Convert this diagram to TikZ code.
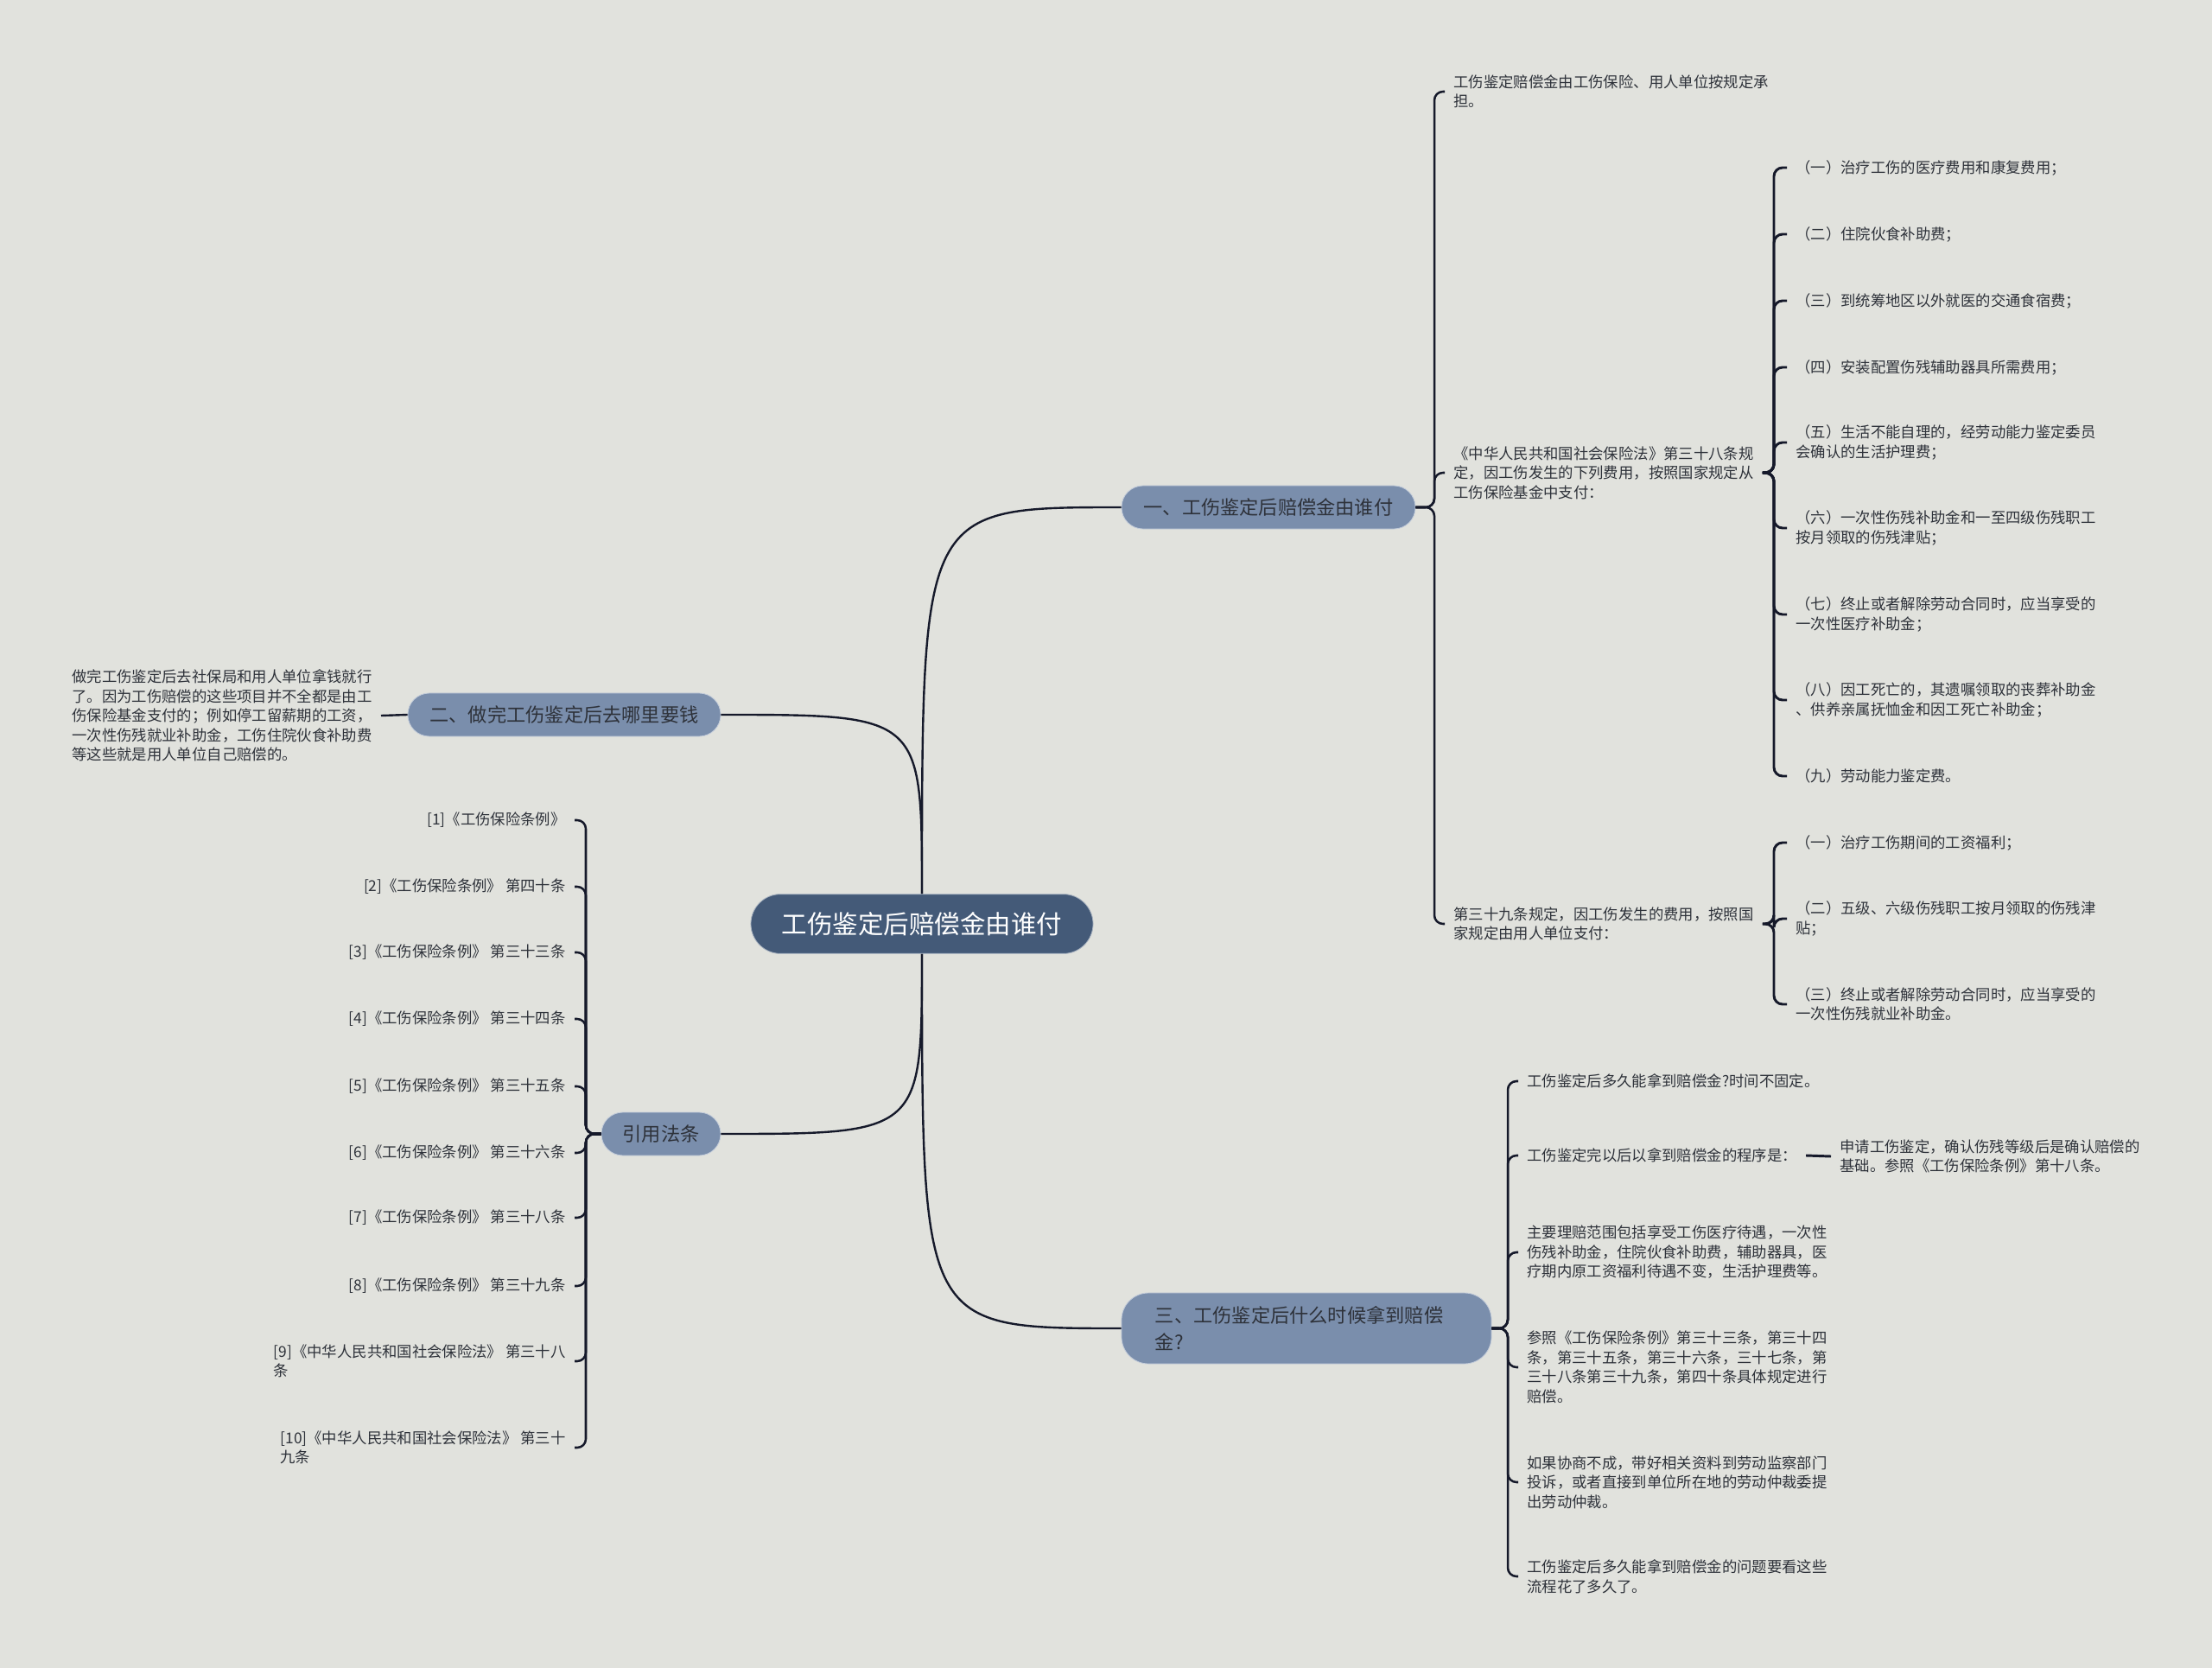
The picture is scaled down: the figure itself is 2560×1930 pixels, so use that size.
\documentclass[tikz,border=0pt]{standalone}
\usepackage{fontspec}
\setmainfont{Noto Sans CJK SC}
\usepackage{tikz}
\usetikzlibrary{positioning,calc}
\definecolor{mmBg}{HTML}{E1E2DD}
\definecolor{mmRoot}{HTML}{445A78}
\definecolor{mmMain}{HTML}{7A8EAC}
\definecolor{mmInk}{HTML}{2E323A}
\definecolor{mmLine}{HTML}{15192A}
\tikzset{
  % Central topic (dark pill)
  rootbox/.style={rectangle,rounded corners=0.86cm,
    minimum width=9.9cm,minimum height=1.72cm,
    fill=mmRoot,draw=white!55!mmRoot,line width=0.6pt,
    font=\fontsize{21}{26}\selectfont,text=white},
  % Main topic (light pill)
  mainbox/.style={rectangle,rounded corners=0.62cm,
    minimum height=1.25cm,
    fill=mmMain,draw=white!55!mmMain,line width=0.6pt,
    font=\fontsize{15.8}{22}\selectfont,text=mmInk},
  % Leaf text
  leaf/.style={align=left,inner xsep=0.25cm,inner ysep=2pt,
    font=\fontsize{12.35}{16}\selectfont,text=mmInk},
  % Connectors
  link/.style={line width=1.7pt,draw=mmLine},
  brk/.style={line width=1.8pt,draw=mmLine,rounded corners=0.25cm},
}

\begin{document}
\begin{tikzpicture}[x=0.025cm,y=-0.025cm]
  \fill[mmBg] (0,0) rectangle (2560,1930);
  \useasboundingbox (0,0) rectangle (2560,1930);

  %% --- TOPICS ---
  \node[rootbox] (root) at (1067,1069) {工伤鉴定后赔偿金由谁付};
  \node[mainbox,minimum width=8.5cm] (who) at (1468,587) {一、工伤鉴定后赔偿金由谁付};
  \node[mainbox,minimum width=9.05cm] (where) at (653,827) {二、做完工伤鉴定后去哪里要钱};
  \node[mainbox,minimum width=3.45cm] (law) at (765,1312) {引用法条};
  \node[mainbox,text width=8.75cm,align=left,inner xsep=0.975cm,
    minimum height=2.05cm,rounded corners=0.78cm] (when) at (1512,1537)
    {三、工伤鉴定后什么时候拿到赔偿\\金?};

  \draw[link] (root.north) .. controls (root.north |- who.west) .. (who.west);
  \draw[link] (root.north) .. controls (root.north |- where.east) .. (where.east);
  \draw[link] (root.south) .. controls (root.south |- law.east) .. (law.east);
  \draw[link] (root.south) .. controls (root.south |- when.west) .. (when.west);

  %% --- WHO PAYS ---
  \coordinate (whoT) at (1660,587);
  \node[leaf,anchor=west] (pay) at (1672,106)
    {工伤鉴定赔偿金由工伤保险、用人单位按规定承\\担。};
  \node[leaf,anchor=west] (fund) at (1672,547)
    {《中华人民共和国社会保险法》第三十八条规\\定，因工伤发生的下列费用，按照国家规定从\\工伤保险基金中支付：};
  \node[leaf,anchor=west] (unit) at (1672,1069)
    {第三十九条规定，因工伤发生的费用，按照国\\家规定由用人单位支付：};

  \draw[brk] (who.east) -- (whoT) |- (pay.west);
  \draw[brk] (who.east) -- (whoT) |- (fund.west);
  \draw[brk] (who.east) -- (whoT) |- (unit.west);

  % paid from the fund
  \coordinate (fundT) at (2053,547);
  \node[leaf,anchor=west] (f1) at (2068,194) {（一）治疗工伤的医疗费用和康复费用；};
  \node[leaf,anchor=west] (f2) at (2068,271) {（二）住院伙食补助费；};
  \node[leaf,anchor=west] (f3) at (2068,348) {（三）到统筹地区以外就医的交通食宿费；};
  \node[leaf,anchor=west] (f4) at (2068,425) {（四）安装配置伤残辅助器具所需费用；};
  \node[leaf,anchor=west] (f5) at (2068,512)
    {（五）生活不能自理的，经劳动能力鉴定委员\\会确认的生活护理费；};
  \node[leaf,anchor=west] (f6) at (2068,611)
    {（六）一次性伤残补助金和一至四级伤残职工\\按月领取的伤残津贴；};
  \node[leaf,anchor=west] (f7) at (2068,711)
    {（七）终止或者解除劳动合同时，应当享受的\\一次性医疗补助金；};
  \node[leaf,anchor=west] (f8) at (2068,810)
    {（八）因工死亡的，其遗嘱领取的丧葬补助金\\、供养亲属抚恤金和因工死亡补助金；};
  \node[leaf,anchor=west] (f9) at (2068,898) {（九）劳动能力鉴定费。};

  \draw[brk,line width=2.1pt] (fund.east) -- (fundT) |- (f1.west);
  \draw[brk,line width=2.1pt] (fund.east) -- (fundT) |- (f2.west);
  \draw[brk,line width=2.1pt] (fund.east) -- (fundT) |- (f3.west);
  \draw[brk,line width=2.1pt] (fund.east) -- (fundT) |- (f4.west);
  \draw[brk,line width=2.1pt] (fund.east) -- (fundT) |- (f5.west);
  \draw[brk,line width=2.1pt] (fund.east) -- (fundT) |- (f6.west);
  \draw[brk,line width=2.1pt] (fund.east) -- (fundT) |- (f7.west);
  \draw[brk,line width=2.1pt] (fund.east) -- (fundT) |- (f8.west);
  \draw[brk,line width=2.1pt] (fund.east) -- (fundT) |- (f9.west);

  % paid by the employer
  \coordinate (unitT) at (2053,1069);
  \node[leaf,anchor=west] (u1) at (2068,975) {（一）治疗工伤期间的工资福利；};
  \node[leaf,anchor=west] (u2) at (2068,1063)
    {（二）五级、六级伤残职工按月领取的伤残津\\贴；};
  \node[leaf,anchor=west] (u3) at (2068,1162)
    {（三）终止或者解除劳动合同时，应当享受的\\一次性伤残就业补助金。};

  \draw[brk,line width=2.1pt] (unit.east) -- (unitT) |- (u1.west);
  \draw[brk,line width=2.1pt] (unit.east) -- (unitT) |- (u2.west);
  \draw[brk,line width=2.1pt] (unit.east) -- (unitT) |- (u3.west);

  %% --- WHERE TO GET IT ---
  \node[leaf,anchor=east] (office) at (441,828)
    {做完工伤鉴定后去社保局和用人单位拿钱就行\\了。因为工伤赔偿的这些项目并不全都是由工\\伤保险基金支付的；例如停工留薪期的工资，\\一次性伤残就业补助金，工伤住院伙食补助费\\等这些就是用人单位自己赔偿的。};
  \draw[link] (where.west) -- (office.east);

  %% --- WHEN ---
  \coordinate (whenT) at (1745,1537);
  \node[leaf,anchor=west] (q1) at (1757,1251) {工伤鉴定后多久能拿到赔偿金?时间不固定。};
  \node[leaf,anchor=west] (q2) at (1757,1337) {工伤鉴定完以后以拿到赔偿金的程序是：};
  \node[leaf,anchor=west] (q3) at (1757,1449)
    {主要理赔范围包括享受工伤医疗待遇，一次性\\伤残补助金，住院伙食补助费，辅助器具，医\\疗期内原工资福利待遇不变，生活护理费等。};
  \node[leaf,anchor=west] (q4) at (1757,1582)
    {参照《工伤保险条例》第三十三条，第三十四\\条，第三十五条，第三十六条，三十七条，第\\三十八条第三十九条，第四十条具体规定进行\\赔偿。};
  \node[leaf,anchor=west] (q5) at (1757,1715)
    {如果协商不成，带好相关资料到劳动监察部门\\投诉，或者直接到单位所在地的劳动仲裁委提\\出劳动仲裁。};
  \node[leaf,anchor=west] (q6) at (1757,1824)
    {工伤鉴定后多久能拿到赔偿金的问题要看这些\\流程花了多久了。};
  \node[leaf,anchor=west] (step) at (2119,1338)
    {申请工伤鉴定，确认伤残等级后是确认赔偿的\\基础。参照《工伤保险条例》第十八条。};

  \draw[brk] (when.east) -- (whenT) |- (q1.west);
  \draw[brk] (when.east) -- (whenT) |- (q2.west);
  \draw[brk] (when.east) -- (whenT) |- (q3.west);
  \draw[brk] (when.east) -- (whenT) |- (q4.west);
  \draw[brk] (when.east) -- (whenT) |- (q5.west);
  \draw[brk] (when.east) -- (whenT) |- (q6.west);
  \draw[link,line width=2.1pt] (q2.east) -- (step.west);

  %% --- CITED LAWS ---
  \coordinate (lawT) at (678,1312);
  \node[leaf,anchor=east] (r1) at (665,949) {[1]《工伤保险条例》};
  \node[leaf,anchor=east] (r2) at (665,1026) {[2]《工伤保险条例》 第四十条};
  \node[leaf,anchor=east] (r3) at (665,1102) {[3]《工伤保险条例》 第三十三条};
  \node[leaf,anchor=east] (r4) at (665,1179) {[4]《工伤保险条例》 第三十四条};
  \node[leaf,anchor=east] (r5) at (665,1257) {[5]《工伤保险条例》 第三十五条};
  \node[leaf,anchor=east] (r6) at (665,1334) {[6]《工伤保险条例》 第三十六条};
  \node[leaf,anchor=east] (r7) at (665,1409) {[7]《工伤保险条例》 第三十八条};
  \node[leaf,anchor=east] (r8) at (665,1488) {[8]《工伤保险条例》 第三十九条};
  \node[leaf,anchor=east] (r9) at (665,1575)
    {[9]《中华人民共和国社会保险法》 第三十八\\条};
  \node[leaf,anchor=east] (r10) at (665,1675)
    {[10]《中华人民共和国社会保险法》 第三十\\九条};

  \draw[brk] (law.west) -- (lawT) |- (r1.east);
  \draw[brk] (law.west) -- (lawT) |- (r2.east);
  \draw[brk] (law.west) -- (lawT) |- (r3.east);
  \draw[brk] (law.west) -- (lawT) |- (r4.east);
  \draw[brk] (law.west) -- (lawT) |- (r5.east);
  \draw[brk] (law.west) -- (lawT) |- (r6.east);
  \draw[brk] (law.west) -- (lawT) |- (r7.east);
  \draw[brk] (law.west) -- (lawT) |- (r8.east);
  \draw[brk] (law.west) -- (lawT) |- (r9.east);
  \draw[brk] (law.west) -- (lawT) |- (r10.east);
\end{tikzpicture}
\end{document}
